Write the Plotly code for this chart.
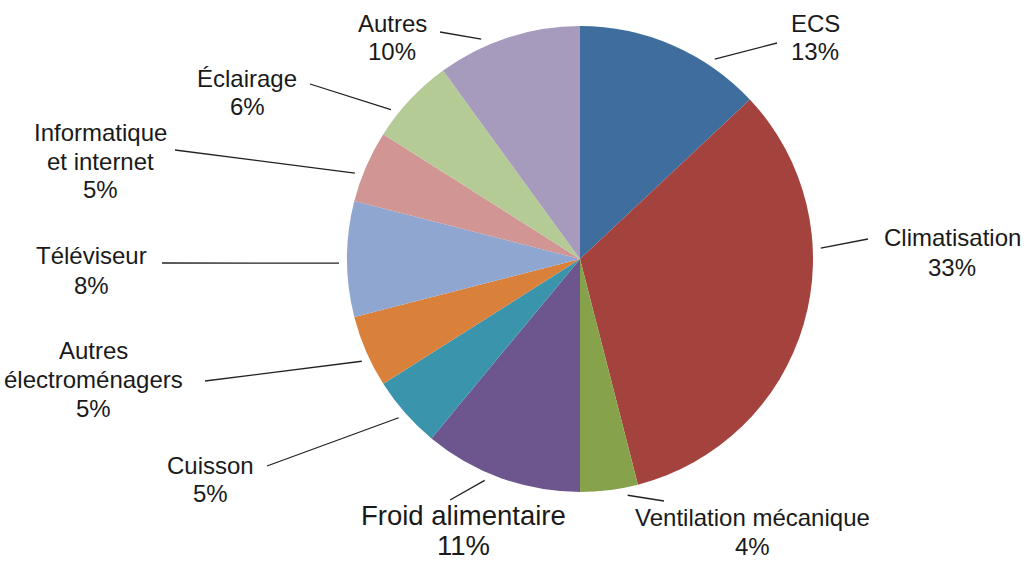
import math
import plotly.graph_objects as go

# ---- data ----
categories = ["ECS", "Climatisation", "Ventilation mécanique", "Froid alimentaire",
              "Cuisson", "Autres électroménagers", "Téléviseur",
              "Informatique et internet", "Éclairage", "Autres"]
label_lines = [["ECS"], ["Climatisation"], ["Ventilation mécanique"], ["Froid alimentaire"],
               ["Cuisson"], ["Autres", "électroménagers"], ["Téléviseur"],
               ["Informatique", "et internet"], ["Éclairage"], ["Autres"]]
values = [13, 33, 4, 11, 5, 5, 8, 5, 6, 10]
colors = ["#3F6D9E", "#A4433D", "#86A34B", "#6D558E", "#3A95AC",
          "#D9803B", "#8FA7D0", "#D19594", "#B5CB96", "#A69ABD"]

# ---- layout / style (pixels) ----
W, H = 1030, 561
CX, CY, R = 580, 259, 233
# label: x centre, y centre of first text line
label_pos = [(815, 24), (952, 237), (752, 517), (463, 515), (210, 465),
             (93, 350), (91, 256), (100, 132), (247, 78), (392, 24)]
font_sizes = [24, 24, 24, 27.5, 24, 24, 24, 24, 24, 24]
line_gap = [28, 30, 29, 30, 28, 29, 29, 29, 28, 27]
# leader line: angle shift from slice middle (deg), and end point near label
lead_shift = [10.6, -18.8, -4.2, 3.5, 0.2, -1.7, -1.0, -2.5, -4.9, -6.2]
lead_end = [(777, 43), (868, 239), (664, 501), (450, 500), (267, 466),
            (205, 381), (162, 263), (175, 150), (310, 84), (440, 32)]


def px(x):
    return x / W


def py(y):
    return 1 - y / H


fig = go.Figure(go.Pie(
    labels=categories, values=values, sort=False, direction="clockwise",
    rotation=0, marker=dict(colors=colors, line=dict(width=0)),
    textinfo="none", hoverinfo="skip", showlegend=False,
    domain=dict(x=[px(CX - R), px(CX + R)], y=[py(CY + R), py(CY - R)]),
))

total = sum(values)
shapes = []
annotations = []
cum = 0
for i, v in enumerate(values):
    mid = (cum + v / 2) / total * 360
    cum += v
    ang = math.radians(mid + lead_shift[i])
    r0 = R + 8
    sx = CX + r0 * math.sin(ang)
    sy = CY - r0 * math.cos(ang)
    ex, ey = lead_end[i]
    shapes.append(dict(type="line", xref="paper", yref="paper",
                       x0=px(sx), y0=py(sy), x1=px(ex), y1=py(ey),
                       line=dict(color="#222222", width=1.3)))
    pct = round(v / total * 100)
    lx, ly = label_pos[i]
    lines = label_lines[i] + [f"{pct}%"]
    for k, t in enumerate(lines):
        annotations.append(dict(
            x=px(lx), y=py(ly + k * line_gap[i]), xref="paper", yref="paper",
            text=t, showarrow=False,
            xanchor="center", yanchor="middle", align="center",
            font=dict(family="Arial, Liberation Sans, sans-serif",
                      size=font_sizes[i], color="#1a1a1a"),
        ))

fig.update_layout(
    width=W, height=H, margin=dict(l=0, r=0, t=0, b=0),
    paper_bgcolor="white", plot_bgcolor="white",
    shapes=shapes, annotations=annotations,
)

fig.write_html("out.html", config={"displayModeBar": False},
               post_script="document.body.style.margin='0px';document.body.style.padding='0px';")
